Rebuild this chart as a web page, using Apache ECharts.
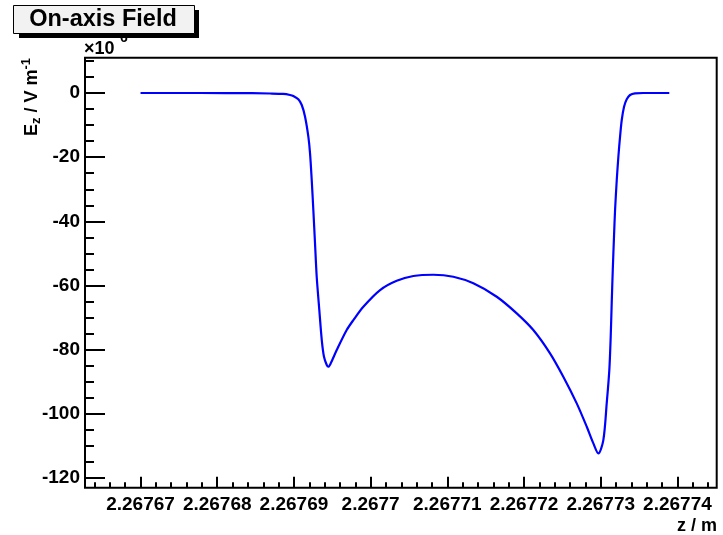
<!DOCTYPE html>
<html><head><meta charset="utf-8">
<script src="https://cdn.jsdelivr.net/npm/echarts@6/dist/echarts.min.js"></script>
<style>html,body{margin:0;padding:0;background:#fff}#c{width:723px;height:535px}</style>
</head><body><div id="c"></div>
<script>
// z position (m)
const zPositions = [
  2.26767000, 2.26767776, 2.26768454, 2.26768688, 2.26768858, 2.26768949, 2.26768992,
  2.26769057, 2.26769102, 2.26769145, 2.26769188, 2.26769210, 2.26769232, 2.26769253,
  2.26769275, 2.26769297, 2.26769331, 2.26769363, 2.26769392, 2.26769428, 2.26769449,
  2.26769480, 2.26769558, 2.26769688, 2.26769775, 2.26769905, 2.26770123, 2.26770340,
  2.26770557, 2.26770818, 2.26771078, 2.26771339, 2.26771644, 2.26771905, 2.26772121,
  2.26772339, 2.26772512, 2.26772687, 2.26772818, 2.26772904, 2.26772969, 2.26773034,
  2.26773078, 2.26773112, 2.26773130, 2.26773143, 2.26773157, 2.26773173, 2.26773187,
  2.26773209, 2.26773230, 2.26773252, 2.26773274, 2.26773304, 2.26773339, 2.26773382,
  2.26773447, 2.26773555, 2.26773894
];
// on-axis field Ez (x10^6 V/m)
const ezValues = [
  0, 0, -0.05, -0.15, -0.3, -0.62, -0.94,
  -1.96, -3.74, -7.39, -13.62, -18.80, -27.12, -36.47,
  -46.85, -57.26, -67.64, -76.99, -82.20, -84.78, -85.31,
  -84.25, -80.11, -73.87, -70.76, -66.61, -61.40, -58.51,
  -57.04, -56.64, -57.26, -59.32, -63.49, -68.67, -73.87,
  -81.14, -88.43, -96.72, -104.01, -109.19, -112.31, -108.16,
  -96.72, -86.35, -75.96, -65.55, -55.17, -44.79, -36.47,
  -27.12, -19.86, -13.62, -8.42, -4.27, -1.96, -0.62,
  -0.09, 0, 0
];
const xMajorTicks = [2.26767, 2.26768, 2.26769, 2.2677, 2.26771, 2.26772, 2.26773, 2.26774];
const xMinorTicks = [
  2.267664, 2.267666, 2.267668,
  2.267672, 2.267674, 2.267676, 2.267678,
  2.267682, 2.267684, 2.267686, 2.267688,
  2.267692, 2.267694, 2.267696, 2.267698,
  2.267702, 2.267704, 2.267706, 2.267708,
  2.267712, 2.267714, 2.267716, 2.267718,
  2.267722, 2.267724, 2.267726, 2.267728,
  2.267732, 2.267734, 2.267736, 2.267738,
  2.267742, 2.267744
];
const yMajorTicks = [0, -20, -40, -60, -80, -100, -120];
const yMinorTicks = [10, 5, -5, -10, -15, -25, -30, -35, -45, -50, -55, -65, -70, -75,
  -85, -90, -95, -105, -110, -115];

const X_MIN = 2.26766276, X_MAX = 2.26774512, Y_MIN = -123, Y_MAX = 11;
const FONT = 'Liberation Sans, Arial, Helvetica, sans-serif';

const chart = echarts.init(document.getElementById('c'), null, {renderer: 'canvas'});
chart.setOption({
  animation: false,
  backgroundColor: '#fff',
  grid: {left: 85, right: 6.3, top: 57.7, bottom: 47.3, show: true,
         borderColor: '#000', borderWidth: 2, backgroundColor: 'transparent'},
  xAxis: [{
    type: 'value', min: X_MIN, max: X_MAX, position: 'bottom',
    axisLine: {show: false, onZero: false},
    splitLine: {show: false},
    axisTick: {show: true, inside: true, length: 11, customValues: xMajorTicks,
               lineStyle: {color: '#000', width: 2}},
    axisLabel: {show: true, customValues: xMajorTicks, margin: 8,
                color: '#000', fontSize: 19, fontWeight: 'bold', fontFamily: FONT,
                formatter: v => parseFloat(v.toFixed(5)).toString()}
  }, {
    type: 'value', min: X_MIN, max: X_MAX, position: 'bottom',
    axisLine: {show: false, onZero: false}, splitLine: {show: false}, axisLabel: {show: false},
    axisTick: {show: true, inside: true, length: 5.5, customValues: xMinorTicks,
               lineStyle: {color: '#000', width: 2}}
  }],
  yAxis: [{
    type: 'value', min: Y_MIN, max: Y_MAX, position: 'left',
    axisLine: {show: false, onZero: false},
    splitLine: {show: false},
    axisTick: {show: true, inside: true, length: 20, customValues: yMajorTicks,
               lineStyle: {color: '#000', width: 2}},
    axisLabel: {show: true, customValues: yMajorTicks, margin: 5,
                color: '#000', fontSize: 19, fontWeight: 'bold', fontFamily: FONT,
                formatter: v => String(v)}
  }, {
    type: 'value', min: Y_MIN, max: Y_MAX, position: 'left',
    axisLine: {show: false, onZero: false}, splitLine: {show: false}, axisLabel: {show: false},
    axisTick: {show: true, inside: true, length: 9, customValues: yMinorTicks,
               lineStyle: {color: '#000', width: 2}}
  }],
  series: [{
    type: 'line', xAxisIndex: 0, yAxisIndex: 0,
    data: zPositions.map((z, i) => [z, ezValues[i]]),
    showSymbol: false, smooth: 0.3,
    lineStyle: {color: '#0000ff', width: 2.2}
  }],
  graphic: [
    {type: 'text', x: 84, y: 49, silent: true,
     style: {text: '×10', verticalAlign: 'middle', align: 'left',
             font: 'bold 18px ' + FONT, fill: '#000'}},
    {type: 'text', x: 120, y: 38, silent: true,
     style: {text: '6', verticalAlign: 'middle', align: 'left',
             font: 'bold 14px ' + FONT, fill: '#000'}},
    {type: 'rect', silent: true, shape: {x: 19, y: 10, width: 180, height: 28}, style: {fill: '#000'}},
    {type: 'rect', silent: true, shape: {x: 13.5, y: 5.5, width: 181, height: 28}, style: {fill: '#f2f2f2', stroke: '#000', lineWidth: 1}},
    {type: 'text', x: 103, y: 20, silent: true,
     style: {text: 'On-axis Field', align: 'center', verticalAlign: 'middle',
             font: 'bold 23.5px ' + FONT, fill: '#000'}},
    {type: 'text', x: 32, y: 58, rotation: Math.PI / 2, silent: true,
     style: {text: '{a|E}{b|z}{a| / V m}{c|-1}', align: 'right', verticalAlign: 'middle',
             rich: {a: {fontSize: 18, fontWeight: 'bold', fontFamily: FONT, fill: '#000', lineHeight: 30},
                    b: {fontSize: 13, fontWeight: 'bold', fontFamily: FONT, fill: '#000', lineHeight: 30, verticalAlign: 'bottom', padding: [0, 0, 4, 0]},
                    c: {fontSize: 13, fontWeight: 'bold', fontFamily: FONT, fill: '#000', lineHeight: 30, verticalAlign: 'top', padding: [3, 0, 0, 0]}}}},
    {type: 'text', x: 717, y: 526, silent: true,
     style: {text: 'z / m', align: 'right', verticalAlign: 'middle',
             font: 'bold 18px ' + FONT, fill: '#000'}}
  ]
});
</script>
</body></html>
